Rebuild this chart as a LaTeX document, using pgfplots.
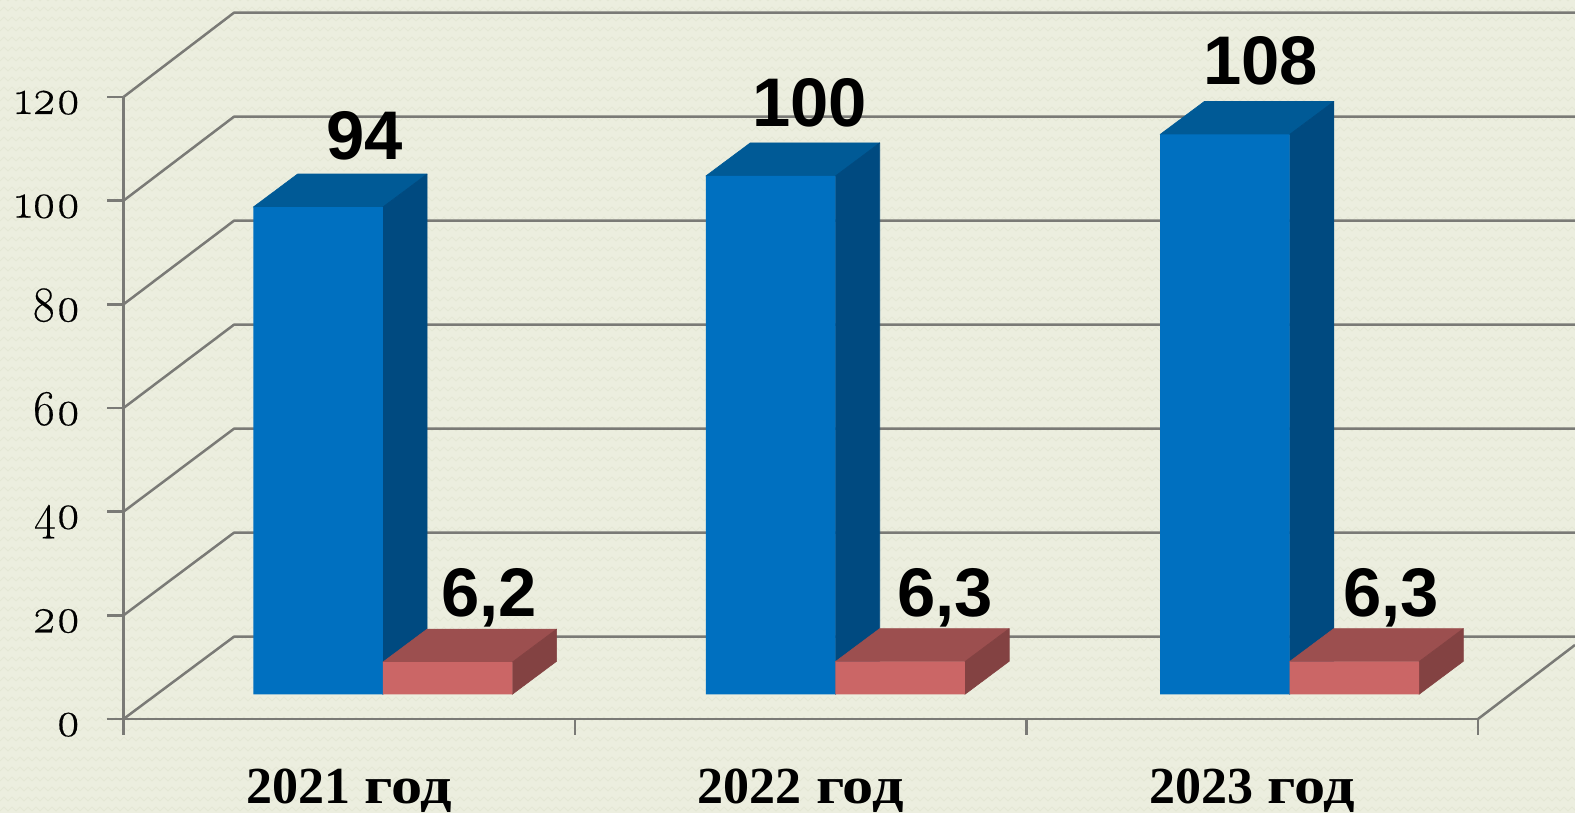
\documentclass[border=0pt]{standalone}
\usepackage{fontspec}
\setmainfont{Liberation Serif}
\newfontfamily\osfont[Numbers=OldStyle,FakeBold=0.35,FakeStretch=0.93]{Latin Modern Roman}
\newfontfamily\lblfont[BoldFont={Liberation Sans Bold}]{Liberation Sans}
\usepackage{graphicx}
\usepackage{pgfplots}
\usetikzlibrary{patterns}
\pgfplotsset{compat=1.18}
\definecolor{bgc}{HTML}{ECEEDF}
\definecolor{bgl}{HTML}{E4E7D5}
\definecolor{gridc}{HTML}{7A7A76}
\definecolor{bluef}{HTML}{0070C0}
\definecolor{bluet}{HTML}{005A96}
\definecolor{blues}{HTML}{004A80}
\definecolor{pinkf}{HTML}{CB6666}
\definecolor{pinkt}{HTML}{9C4F4F}
\definecolor{pinks}{HTML}{834242}
\pgfdeclarepatternformonly{zigz}{\pgfqpoint{-1pt}{-1pt}}{\pgfqpoint{9pt}{6pt}}{\pgfqpoint{8pt}{5pt}}{%
  \pgfsetlinewidth{0.45pt}%
  \pgfpathmoveto{\pgfqpoint{0pt}{1pt}}%
  \pgfpathlineto{\pgfqpoint{2pt}{3pt}}%
  \pgfpathlineto{\pgfqpoint{4pt}{1pt}}%
  \pgfpathlineto{\pgfqpoint{6pt}{3pt}}%
  \pgfpathlineto{\pgfqpoint{8pt}{1pt}}%
  \pgfusepath{stroke}%
}
\pgfplotstableread{
x y lab dy
0.5349 94 94 35.4
1.5194 100 100 36.8
2.5185 108 108 37.0
}\bluelabels
\pgfplotstableread{
x y lab dy
0.8095 6.2 6,2 32.0
1.8195 6.3 6,3 32.0
2.8073 6.3 6,3 32.0
}\pinklabels
\newcommand{\yr}[1]{#1\hspace{0.28em}\scalebox{1.2}[1]{год}}
\begin{document}
\begin{tikzpicture}
\path[use as bounding box] (0,0) rectangle (787.5pt,406.5pt);
\fill[bgc] (0,0) rectangle (787.5pt,406.5pt);
\fill[pattern=zigz, pattern color=bgl] (0,0) rectangle (787.5pt,406.5pt);
\begin{axis}[
  at={(61.75pt,47pt)}, anchor=south west,
  scale only axis, width=677.25pt, height=311pt,
  xmin=0, xmax=3, ymin=0, ymax=120, clip=false,
  axis x line=bottom, axis y line=left,
  axis line style={-, draw=gridc, line width=1.25pt},
  tick style={draw=gridc, line width=1.25pt},
  tick align=outside, major tick length=8pt,
  xtick={0,1,2,3}, xticklabels={},
  ytick={0,20,40,60,80,100,120},
  extra x ticks={0.5,1.5,2.5},
  extra x tick labels={\yr{2021},\yr{2022},\yr{2023}},
  extra x tick style={major tick length=0pt, tick style={draw=none},
    xticklabel style={font=\fontsize{26}{28}\selectfont\bfseries, yshift=-21.5pt}},
  /pgf/number format/assume math mode=true,
  yticklabel style={font=\fontsize{25}{27}\osfont, anchor=base east, yshift=-8.5pt, xshift=-10pt},
  gridl/.style={draw=gridc, line width=1.25pt, line join=round, no markers, forget plot},
  face/.style={fill=#1, draw=#1, line width=0.3pt, line join=round, yshift=12.35pt, forget plot},
]
% walls and floor
\addplot[gridl] coordinates {(0,0)(0.2447,15.88)(3.2148,15.88)};
\addplot[gridl] coordinates {(0,20)(0.2447,35.94)(3.2148,35.94)};
\addplot[gridl] coordinates {(0,40)(0.2447,56.0)(3.2148,56.0)};
\addplot[gridl] coordinates {(0,60)(0.2447,76.07)(3.2148,76.07)};
\addplot[gridl] coordinates {(0,80)(0.2447,96.13)(3.2148,96.13)};
\addplot[gridl] coordinates {(0,100)(0.2447,116.2)(3.2148,116.2)};
\addplot[gridl] coordinates {(0,120)(0.2447,136.26)(3.2148,136.26)};
\addplot[gridl] coordinates {(3,0)(3.2148,14.28)};
% blue bars: tops and sides
\addplot[face=bluet] coordinates {(0.2875,94)(0.3856,100.37)(0.6724,100.37)(0.5743,94)} -- cycle;
\addplot[face=blues] coordinates {(0.5743,0)(0.5743,94)(0.6724,100.37)(0.6724,6.37)} -- cycle;
\addplot[face=bluet] coordinates {(1.2900,100)(1.3881,106.37)(1.6749,106.37)(1.5768,100)} -- cycle;
\addplot[face=blues] coordinates {(1.5768,0)(1.5768,100)(1.6749,106.37)(1.6749,6.37)} -- cycle;
\addplot[face=bluet] coordinates {(2.2958,108)(2.3939,114.37)(2.6807,114.37)(2.5826,108)} -- cycle;
\addplot[face=blues] coordinates {(2.5826,0)(2.5826,108)(2.6807,114.37)(2.6807,6.37)} -- cycle;
% blue bars: fronts
\addplot[ybar, bar shift=0pt, bar width=64.75pt, fill=bluef, draw=none, yshift=12.35pt] coordinates {(0.4309,94)(1.4334,100)(2.4392,108)};
% red bars: tops and sides
\addplot[face=pinkt] coordinates {(0.5743,6.2)(0.6724,12.57)(0.9592,12.57)(0.8611,6.2)} -- cycle;
\addplot[face=pinks] coordinates {(0.8611,0)(0.8611,6.2)(0.9592,12.57)(0.9592,6.37)} -- cycle;
\addplot[face=pinkt] coordinates {(1.5768,6.3)(1.6749,12.67)(1.9617,12.67)(1.8636,6.3)} -- cycle;
\addplot[face=pinks] coordinates {(1.8636,0)(1.8636,6.3)(1.9617,12.67)(1.9617,6.37)} -- cycle;
\addplot[face=pinkt] coordinates {(2.5826,6.3)(2.6807,12.67)(2.9675,12.67)(2.8694,6.3)} -- cycle;
\addplot[face=pinks] coordinates {(2.8694,0)(2.8694,6.3)(2.9675,12.67)(2.9675,6.37)} -- cycle;
% red bars: fronts
\addplot[ybar, bar shift=0pt, bar width=64.75pt, fill=pinkf, draw=none, yshift=12.35pt] coordinates {(0.7177,6.2)(1.7202,6.3)(2.7260,6.3)};
% value labels
\addplot[only marks, mark=none, yshift=12.35pt, point meta=explicit symbolic,
  visualization depends on={\thisrow{dy}\as\labdy},
  nodes near coords,
  every node near coord/.style={anchor=center, font=\fontsize{34.4}{36}\lblfont\bfseries, text=black, yshift=\labdy pt, inner sep=0pt}]
  table[x=x,y=y,meta=lab] {\bluelabels};
\addplot[only marks, mark=none, yshift=12.35pt, point meta=explicit symbolic,
  visualization depends on={\thisrow{dy}\as\labdy},
  nodes near coords,
  every node near coord/.style={anchor=center, font=\fontsize{34.4}{36}\lblfont\bfseries, text=black, yshift=\labdy pt, inner sep=0pt}]
  table[x=x,y=y,meta=lab] {\pinklabels};
\end{axis}
\end{tikzpicture}
\end{document}
